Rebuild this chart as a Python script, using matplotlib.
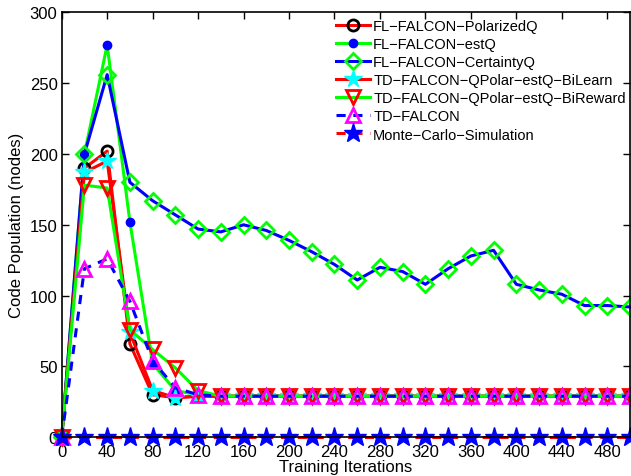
import numpy as np
import matplotlib
matplotlib.use("Agg")
import matplotlib.pyplot as plt

plt.rcParams["font.family"] = ["Liberation Sans", "DejaVu Sans"]

# ---------------------------------------------------------------------------
# Data
# ---------------------------------------------------------------------------
iterations = list(range(0, 501, 20))

tail = [29] * 19

polarized_q = [0, 190, 202, 66, 30, 28, 29] + tail
est_q = [0, 200, 277, 152, 52, 33, 30] + tail
certainty_q = [0, 200, 256, 180, 167, 157, 147, 145, 150, 146, 139, 131, 122,
               111, 120, 117, 108, 119, 128, 132, 108, 104, 101, 93, 93, 92]
bilearn = [0, 187, 195, 74, 33, 28, 29] + tail
bireward = [0, 178, 176, 76, 62, 49, 33] + tail
td_falcon = [0, 119, 126, 96, 54, 35, 30] + tail
monte_carlo = [0] * 26

labels = [
    "FL\u2212FALCON\u2212PolarizedQ",
    "FL\u2212FALCON\u2212estQ",
    "FL\u2212FALCON\u2212CertaintyQ",
    "TD\u2212FALCON\u2212QPolar\u2212estQ\u2212BiLearn",
    "TD\u2212FALCON\u2212QPolar\u2212estQ\u2212BiReward",
    "TD\u2212FALCON",
    "Monte\u2212Carlo\u2212Simulation",
]

# ---------------------------------------------------------------------------
# Plot
# ---------------------------------------------------------------------------
fig = plt.figure(figsize=(6.31, 4.77), dpi=100)
ax = fig.add_axes([61.7 / 631, 1 - 438.3 / 477, (630 - 61.7) / 631, (438.3 - 13.3) / 477])

lw = 2.2
common = dict(linewidth=lw, clip_on=False)

ax.plot(iterations, polarized_q, color="red", marker="o", markersize=8,
        markerfacecolor="none", markeredgecolor="black", markeredgewidth=2,
        label=labels[0], **common)
ax.plot(iterations, est_q, color="#00ff00", marker="o", markersize=6,
        markerfacecolor="blue", markeredgecolor="blue",
        label=labels[1], **common)
ax.plot(iterations, certainty_q, color="blue", marker="D", markersize=8,
        markerfacecolor="none", markeredgecolor="#00ff00", markeredgewidth=2,
        label=labels[2], **common)
ax.plot(iterations, bilearn, color="red", marker="*", markersize=13,
        markerfacecolor="cyan", markeredgecolor="cyan",
        label=labels[3], **common)
ax.plot(iterations, bireward, color="#00ff00", marker="v", markersize=10,
        markerfacecolor="none", markeredgecolor="red", markeredgewidth=2,
        label=labels[4], **common)
ax.plot(iterations, td_falcon, color="blue", linestyle=(0, (3, 2.5)), marker="^",
        markersize=10, markerfacecolor="none", markeredgecolor="magenta",
        markeredgewidth=2, label=labels[5], **common)
ax.plot(iterations, monte_carlo, color="red", linestyle=(0, (3, 2.5)), marker="*",
        markersize=14, markerfacecolor="blue", markeredgecolor="blue",
        label=labels[6], **common)

ax.set_xlim(0, 500)
ax.set_ylim(0, 300)
ax.set_xticks(range(0, 481, 40))
ax.set_yticks(range(0, 301, 50))
ax.tick_params(direction="in", top=True, right=True, length=5, width=1,
               labelsize=12, colors="black")
ax.tick_params(axis="x", pad=5)
ax.tick_params(axis="y", pad=3)
for s in ax.spines.values():
    s.set_linewidth(1.2)

ax.set_xlabel("Training Iterations", fontsize=12, labelpad=0)
ax.set_ylabel("Code Population (nodes)", fontsize=12, labelpad=4)

ax.legend(loc="upper left", bbox_to_anchor=(336 / 631, 1 - 20 / 477),
          bbox_transform=fig.transFigure,
          frameon=False, fontsize=10.5, handlelength=2.3, handletextpad=0.25,
          labelspacing=0.28, borderpad=0, borderaxespad=0)

fig.savefig("out.png", dpi=100)
